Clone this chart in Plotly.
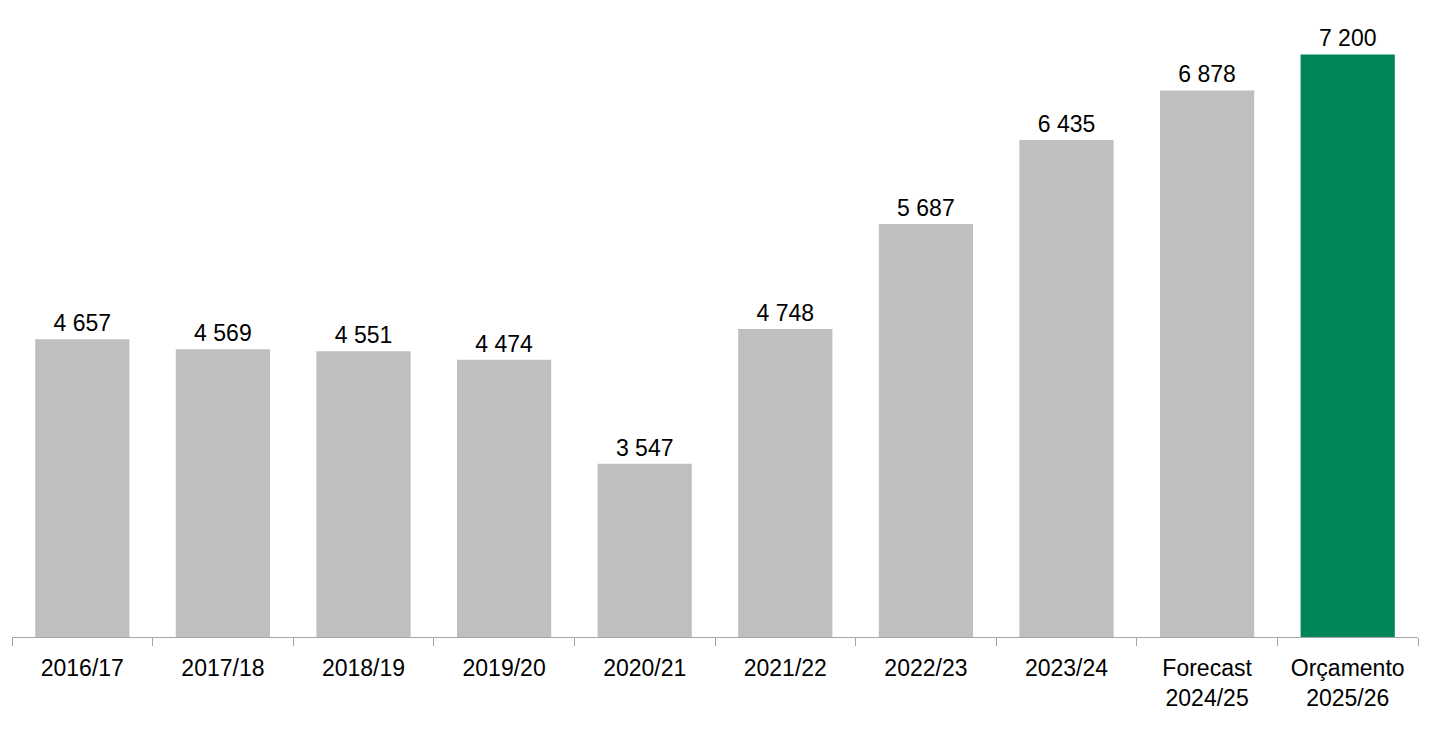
import plotly.graph_objects as go

categories = ["2016/17", "2017/18", "2018/19", "2019/20", "2020/21", "2021/22",
              "2022/23", "2023/24", "Forecast<br>2024/25", "Orçamento<br>2025/26"]
values = [4657, 4569, 4551, 4474, 3547, 4748, 5687, 6435, 6878, 7200]
colors = ["#BFBFBF"] * 9 + ["#00845A"]

fig = go.Figure(go.Bar(
    x=categories, y=values,
    marker=dict(color=colors, line=dict(width=0)),
    width=0.67,
    texttemplate="%{y:,.0f}", textposition="outside", cliponaxis=False,
    textfont=dict(family="Liberation Sans, Arial, sans-serif", size=23, color="#000000"),
))

fig.update_layout(
    width=1435, height=731,
    margin=dict(l=4, r=25, t=24, b=102),
    paper_bgcolor="white", plot_bgcolor="white",
    separators=". ",
    showlegend=False,
    font=dict(family="Liberation Sans, Arial, sans-serif", size=23, color="#000000"),
    xaxis=dict(
        showline=True, linecolor="#A6A6A6", linewidth=1,
        ticks="outside", tickson="boundaries", ticklen=8, tickcolor="#A6A6A6",
        ticklabelstandoff=10,
        showgrid=False, tickfont=dict(size=23, color="#000000"),
    ),
    yaxis=dict(range=[2000, 7400], visible=False, showgrid=False, zeroline=False),
)

fig.write_html("out.html")
